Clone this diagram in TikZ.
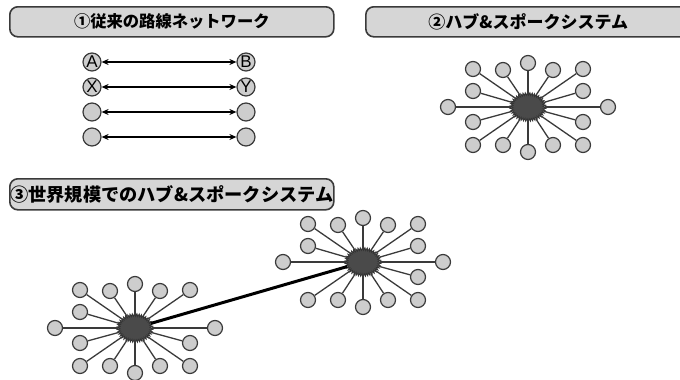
\documentclass[tikz,border=0pt]{standalone}
\usepackage{fontspec}
\setmainfont{Liberation Sans}
\newfontfamily\jp{Noto Sans CJK JP}
\usetikzlibrary{arrows.meta,shapes.geometric,decorations.pathmorphing}
\definecolor{hdrfill}{HTML}{D6D6D6}
\definecolor{edgecol}{HTML}{3A3A3A}
\definecolor{satfill}{HTML}{CDCDCD}
\definecolor{hubfill}{HTML}{4A4A4A}
\tikzset{
  hdr/.style={draw=edgecol, line width=1.6pt, fill=hdrfill, rounded corners=8pt,
    inner sep=0pt, anchor=north west, text=black},
  endpt/.style={circle, draw=edgecol, line width=1.2pt, fill=satfill, minimum size=18pt,
    inner sep=0pt, font=\fontsize{17}{17}\selectfont},
  biarrow/.style={line width=1.4pt, {Stealth[length=7pt,width=6pt]}-{Stealth[length=7pt,width=6pt]}},
  sat/.style={circle, draw=edgecol, line width=1.2pt, fill=satfill, minimum size=15pt, inner sep=0pt},
  spoke/.style={draw=edgecol, line width=1.3pt},
  hub/.style={ellipse, minimum width=33pt, minimum height=26pt, inner sep=0pt,
    fill=hubfill, draw=hubfill!70!black, line width=0.8pt, decorate,
    decoration={zigzag, segment length=2.2pt, amplitude=1.4pt}},
  link/.style={line width=3pt, black}
}
\begin{document}
\begin{tikzpicture}[x=1pt, y=-1pt]
\useasboundingbox (0,0) rectangle (680,380);
% headers
\node[hdr, minimum width=324pt, minimum height=30pt, font=\jp\bfseries\fontsize{16.3}{16.3}\selectfont] (t1) at (9,6) {①従来の路線ネットワーク};
\node[hdr, minimum width=325pt, minimum height=30pt, font=\jp\bfseries\fontsize{17}{17}\selectfont] (t2) at (365,6) {②ハブ\&スポークシステム};
\node[hdr, minimum width=324pt, minimum height=31pt, font=\jp\bfseries\fontsize{18.2}{18.2}\selectfont] (t3) at (9,178) {③世界規模でのハブ\&スポークシステム};

% section 1
\node[endpt] (a1) at (92,62) {A};
\node[endpt] (b1) at (246,62) {B};
\node[endpt] (a2) at (92,87) {X};
\node[endpt] (b2) at (246,87) {Y};
\node[endpt] (a3) at (92,112) {};
\node[endpt] (b3) at (246,112) {};
\node[endpt] (a4) at (92,137) {};
\node[endpt] (b4) at (246,137) {};
\foreach \i in {1,2,3,4} \draw[biarrow] (a\i) -- (b\i);

% section 2 hub
\node[hub] (h2) at (528,107) {};
\foreach \dx/\dy [count=\i] in {0/-44, -25/-37, 25/-37, -55/-38, 55/-38, -55/-16, 55/-16, -80/0, 80/0, -55/15, 55/15, -55/38, 55/38, -25/38, 25/38, 0/45}{
  \node[sat] (s2-\i) at ([shift={(\dx,\dy)}]h2.center) {};
  \draw[spoke] (h2) -- (s2-\i);
}

% section 3 hubs
\node[hub] (hL) at (135,328) {};
\node[hub] (hR) at (363,262) {};
\foreach \dx/\dy [count=\i] in {0/-44, -25/-37, 25/-37, -55/-38, 55/-38, -55/-16, -80/0, 80/0, -55/15, 55/15, -55/38, 55/38, -25/38, 25/38, 0/45}{
  \node[sat] (sL-\i) at ([shift={(\dx,\dy)}]hL.center) {};
  \draw[spoke] (hL) -- (sL-\i);
}
\foreach \dx/\dy [count=\i] in {0/-44, -25/-37, 25/-37, -55/-38, 55/-38, -55/-16, 55/-16, -80/0, 80/0, 55/15, -55/38, 55/38, -25/38, 25/38, 0/45}{
  \node[sat] (sR-\i) at ([shift={(\dx,\dy)}]hR.center) {};
  \draw[spoke] (hR) -- (sR-\i);
}
\draw[link] (hL) -- (hR);
\end{tikzpicture}
\end{document}
